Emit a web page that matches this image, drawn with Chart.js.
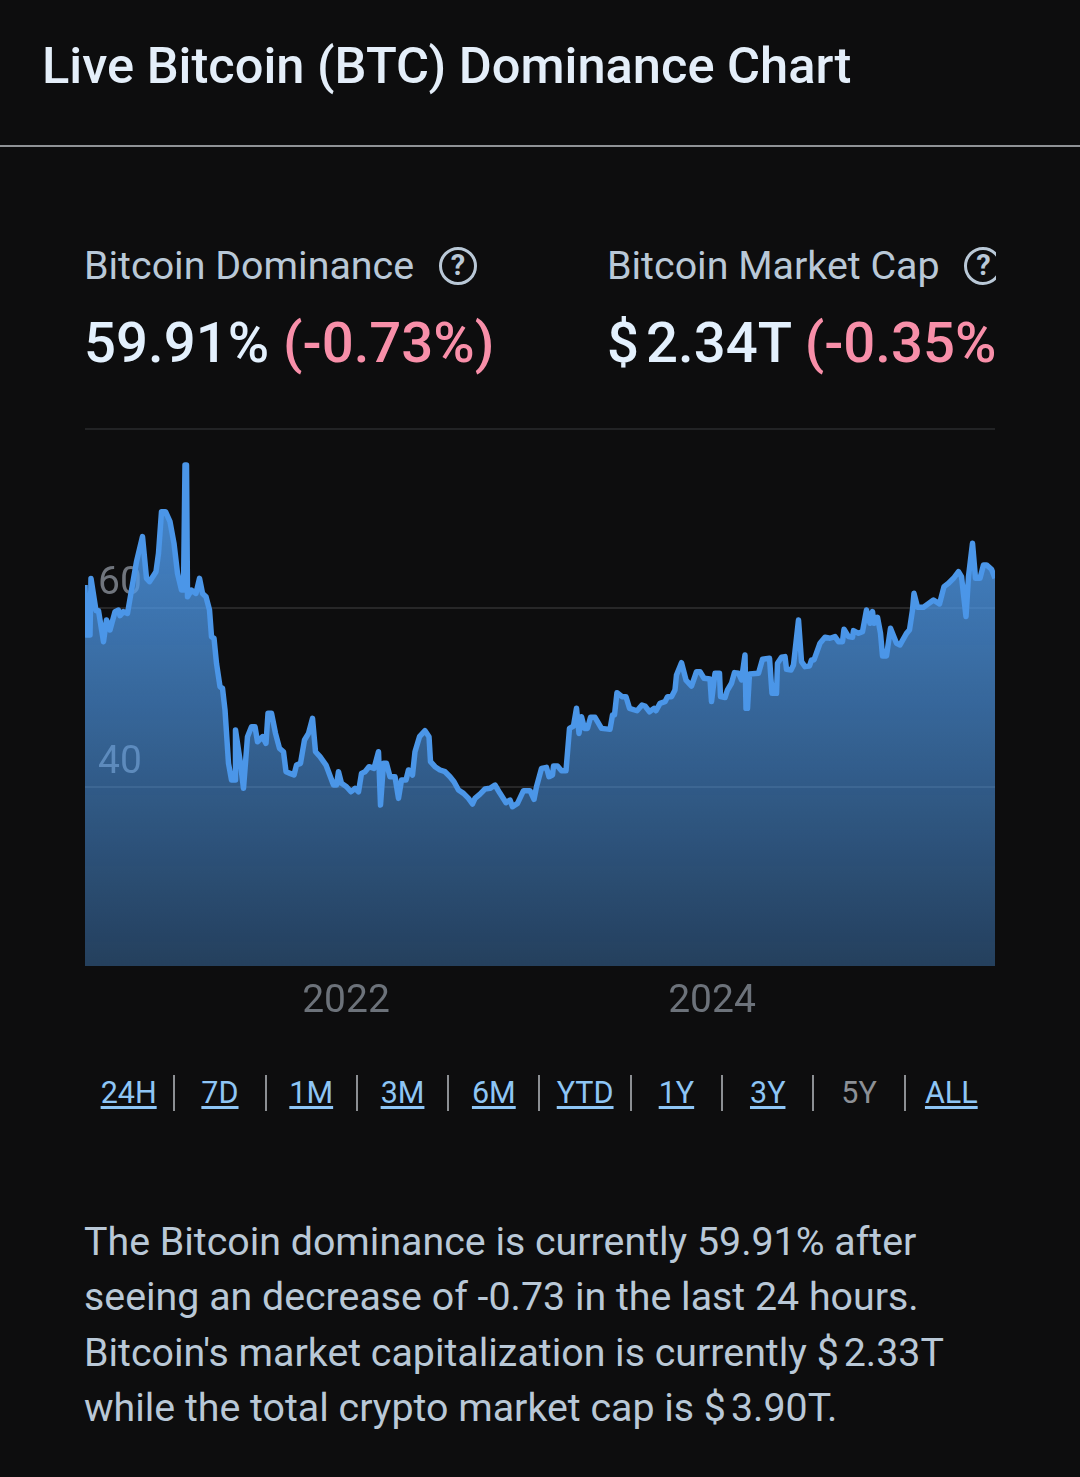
<!DOCTYPE html>
<html>
<head>
<meta charset="utf-8">
<title>Live Bitcoin (BTC) Dominance Chart</title>
<script src="https://cdn.jsdelivr.net/npm/chart.js@4/dist/chart.umd.min.js"></script>
<style>
  html, body { margin: 0; padding: 0; background: #0d0d0e; }
  body { position: relative; width: 1080px; height: 1477px; overflow: hidden; font-family: Roboto, sans-serif; }
  .abs { position: absolute; white-space: nowrap; }
  #title { left: 42px; top: 37px; font-size: 50.6px; line-height: 58px; font-weight: 500; color: #e4eef9; }
  #rule { left: 0; top: 145px; width: 1080px; height: 2px; background: #8f9296; }
  .stat { top: 240px; height: 140px; overflow: hidden; }
  #stat1 { left: 84px; width: 450px; }
  #stat2 { left: 607px; width: 389px; }
  .label { position: absolute; left: 0; top: 0; font-size: 39.4px; line-height: 52px; color: #b9c8d7; white-space: nowrap; }
  .help { display: inline-block; box-sizing: border-box; width: 38px; height: 38px; margin-left: 15px; border: 3.5px solid #b9c8d7; border-radius: 50%;
          font-size: 29px; line-height: 31px; font-weight: 700; text-align: center; vertical-align: 4px; }
  .value { position: absolute; left: 0; top: 71px; font-size: 56.3px; line-height: 64px; font-weight: 500; color: #e3f0fd; white-space: nowrap; }
  .value .chg { color: #f88fa9; }
  .value .cur { margin-right: 7px; }
  .cur { margin-right: 5px; }
  #wrap { position: absolute; left: 85px; top: 428px; width: 910px; height: 590px; }
  #ranges { left: 84px; top: 1075px; display: flex; }
  #ranges div { box-sizing: border-box; width: 91.3px; height: 36px; border-right: 2px solid #8c8f93; text-align: center;
                font-size: 30.5px; line-height: 36px; color: #8ec5f5; text-decoration: underline; text-underline-offset: 3px; }
  #ranges div:last-child { border-right: none; }
  #ranges div.on { color: #8c9096; text-decoration: none; }
  #desc { left: 84px; top: 1215px; font-size: 39.35px; line-height: 55.4px; color: #b9c8d7; }
</style>
</head>
<body>
<div class="abs" id="title">Live Bitcoin (BTC) Dominance Chart</div>
<div class="abs" id="rule"></div>

<div class="abs stat" id="stat1">
  <div class="label">Bitcoin Dominance <span class="help">?</span></div>
  <div class="value">59.91% <span class="chg">(-0.73%)</span></div>
</div>
<div class="abs stat" id="stat2">
  <div class="label">Bitcoin Market Cap <span class="help">?</span></div>
  <div class="value"><span class="cur">$</span>2.34T <span class="chg">(-0.35%)</span></div>
</div>

<div id="wrap"><canvas id="domChart" width="910" height="590"></canvas></div>

<div class="abs" id="ranges"></div>

<div class="abs" id="desc">The Bitcoin dominance is currently 59.91% after<br>seeing an decrease of -0.73 in the last 24 hours.<br>Bitcoin's market capitalization is currently <span class="cur">$</span>2.33T<br>while the total crypto market cap is <span class="cur">$</span>3.90T.</div>

<script>
'use strict';

// Days since the start of the 5Y window
const days = [
  0,3,10,12,22,27,37,43,50,60,67,70,77,85,93,103,115,123,129,142,
  147,153,161,170,178,185,193,197,200,203,205,213,222,229,235,242,249,253,258,263,
  270,275,280,287,293,300,301,310,317,325,333,340,345,355,362,366,373,381,389,397,
  402,410,418,423,431,439,447,455,461,470,482,497,503,507,513,523,532,540,547,553,
  560,568,578,587,591,597,603,610,620,627,633,642,647,655,660,669,680,688,691,700,
  710,720,730,738,747,757,767,775,780,790,800,810,820,830,842,850,855,865,877,890,
  898,903,913,923,928,935,937,945,953,962,969,977,983,988,993,999,1005,1011,1020,1033,
  1050,1055,1059,1064,1074,1082,1089,1104,1114,1120,1129,1138,1142,1150,1160,1165,1173,1180,1183,1193,
  1202,1213,1223,1230,1238,1250,1253,1260,1269,1271,1280,1285,1293,1299,1307,1313,1320,1322,1325,1329,
  1347,1355,1369,1374,1383,1385,1393,1400,1403,1412,1417,1427,1433,1440,1449,1453,1458,1470,1480,1490,
  1500,1507,1515,1518,1527,1535,1537,1547,1555,1563,1570,1575,1578,1585,1591,1595,1603,1611,1623,1630,
  1643,1649,1655,1658,1665,1677,1697,1709,1718,1727,1737,1747,1753,1762,1767,1775,1781,1790,1797,1803,
  1813,1820
];

// BTC dominance (%)
const dominance = [
  62.57,56.98,56.98,63.31,59.70,59.70,56.23,58.66,57.54,59.59,59.77,59.14,59.59,59.40,62.00,65.17,67.97,63.31,62.94,64.06,
  66.10,70.76,70.76,69.64,67.22,63.87,62.00,62.00,75.97,75.97,61.26,62.00,61.63,63.31,61.63,61.26,59.77,56.79,56.61,53.81,
  51.21,51.02,48.60,42.64,40.78,40.78,46.37,43.01,39.85,45.62,46.74,46.74,45.06,45.62,44.87,48.23,48.23,45.99,44.32,43.94,
  41.71,41.52,41.34,42.45,42.64,45.25,45.99,47.67,43.94,43.39,42.45,40.22,40.22,41.71,40.41,40.03,39.47,39.85,39.47,41.52,
  41.71,42.27,42.08,43.94,37.98,42.64,42.64,41.15,41.15,38.73,40.78,40.78,41.90,41.34,43.94,45.62,46.29,45.62,42.83,42.27,
  41.90,41.71,41.15,40.59,39.66,39.29,38.73,38.10,38.73,39.21,39.77,39.85,40.22,39.29,38.25,38.54,37.80,38.17,39.59,39.59,
  38.62,40.03,42.08,42.19,41.15,41.34,42.34,42.34,41.82,41.82,46.55,46.81,48.79,45.99,47.85,46.55,46.55,47.78,47.78,46.55,
  46.44,48.04,48.04,50.54,50.09,50.09,48.79,48.52,49.16,49.05,48.41,48.79,48.52,49.34,49.53,50.09,50.09,50.83,52.51,53.89,
  51.95,51.28,52.88,52.88,52.15,52.07,49.54,52.71,52.71,50.10,49.99,50.84,51.59,52.78,52.71,51.96,54.75,48.79,48.79,52.63,
  52.71,54.27,54.38,50.47,50.47,53.82,54.49,54.57,53.15,53.08,53.64,58.66,54.01,53.45,53.52,54.20,54.20,56.06,56.73,56.62,
  56.80,56.24,56.24,57.62,56.80,56.73,57.47,57.17,57.36,59.78,58.29,59.60,58.29,58.96,57.17,54.64,54.64,57.73,56.06,55.87,
  57.17,57.55,59.78,61.64,60.08,60.08,60.90,60.45,62.39,62.76,63.32,64.06,63.51,59.04,63.51,67.23,63.32,63.32,64.81,64.81,
  64.33,63.32
];

const xTickDays   = [522, 1254];
const xTickLabels = ['2022', '2024'];
const yTickValues = [40, 60];
const ranges      = ['24H', '7D', '1M', '3M', '6M', 'YTD', '1Y', '3Y', '5Y', 'ALL'];
const activeRange = '5Y';

// ─── Range links ──────────────────────────────────────────────
document.getElementById('ranges').innerHTML = ranges
  .map(r => `<div class="${r === activeRange ? 'on' : ''}">${r}</div>`)
  .join('');

// ─── Area fill ────────────────────────────────────────────────
function areaGradient(context) {
  const { ctx, chartArea } = context.chart;
  if (!chartArea) return 'transparent';
  const g = ctx.createLinearGradient(0, chartArea.top, 0, chartArea.bottom);
  g.addColorStop(0, 'rgba(79,155,236,0.92)');
  g.addColorStop(1, 'rgba(79,155,236,0.36)');
  return g;
}

// ─── Chart ────────────────────────────────────────────────────
new Chart(document.getElementById('domChart'), {
  type: 'line',
  data: {
    datasets: [{
      data: days.map((d, i) => ({ x: d, y: dominance[i] })),
      borderColor: '#4b96e8',
      borderWidth: 5.5,
      borderJoinStyle: 'round',
      backgroundColor: areaGradient,
      fill: 'start',
      tension: 0,
      pointRadius: 0,
    }]
  },
  options: {
    responsive: false,
    animation: false,
    layout: { autoPadding: false, padding: { top: 1 } },
    plugins: { legend: { display: false }, tooltip: { enabled: false } },
    scales: {
      x: {
        type: 'linear',
        min: 0,
        max: 1820,
        grid: { display: false },
        border: { display: false },
        afterBuildTicks: scale => { scale.ticks = xTickDays.map(v => ({ value: v })); },
        afterFit: scale => { scale.height = 52; },
        ticks: {
          padding: 5,
          maxRotation: 0,
          color: '#6c727a',
          font: { family: 'Roboto', size: 39 },
          callback: v => xTickLabels[xTickDays.indexOf(v)],
        },
      },
      y: {
        min: 20,
        max: 80,
        border: { display: false },
        // mirrored labels: the axis takes no room of its own
        afterFit: scale => { scale.width = 0; scale.paddingTop = 0; scale.paddingBottom = 0; },
        grid: {
          drawTicks: false,
          lineWidth: 2,
          color: c => c.tick.value === 20 ? 'transparent' : (c.tick.value === 80 ? '#222325' : 'rgba(255,255,255,0.11)'),
        },
        ticks: {
          stepSize: 20,
          mirror: true,
          padding: 13,
          labelOffset: -24,
          color: '#70757d',
          font: { family: 'Roboto', size: 39 },
          callback: v => yTickValues.includes(v) ? String(v) : '',
        },
      },
    },
  },
});
</script>
</body>
</html>
